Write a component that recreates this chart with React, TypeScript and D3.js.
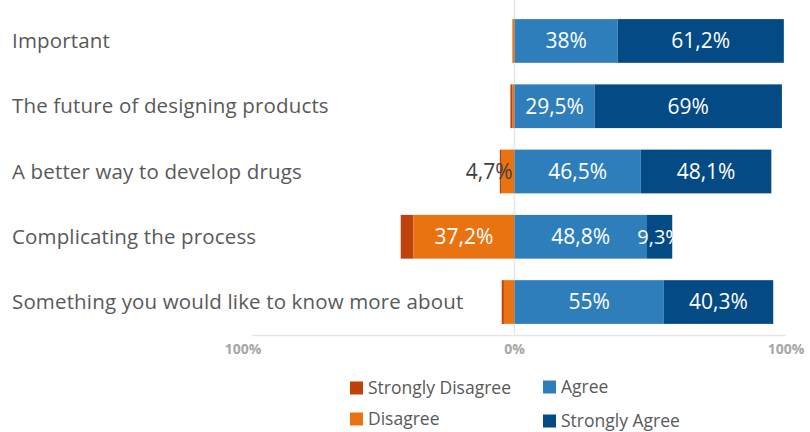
import React from "react";
import * as d3 from "d3";

const categories = [
  "Important",
  "The future of designing products",
  "A better way to develop drugs",
  "Complicating the process",
  "Something you would like to know more about",
];
const stronglyDisagree = [0, 0.8, 0.7, 4.7, 0.8];
const disagree = [0.8, 0.7, 4.7, 37.2, 3.9];
const agree = [38, 29.5, 46.5, 48.8, 55];
const stronglyAgree = [61.2, 69, 48.1, 9.3, 40.3];
const agreeLabels = ["38%", "29,5%", "46,5%", "48,8%", "55%"];
const stronglyAgreeLabels = ["61,2%", "69%", "48,1%", "9,3%", "40,3%"];
const disagreeLabels = ["", "", "4,7%", "37,2%", ""];
const tickValues = [-100, 0, 100];
const tickLabels = ["100%", "0%", "100%"];
const seriesNames = ["Strongly Disagree", "Disagree", "Agree", "Strongly Agree"];
const colors = ["#C0410B", "#EA7311", "#2E7EBC", "#044A85"];

export default function App() {
  const W = 810, H = 432;
  const x = d3.scaleLinear().domain([-100, 100]).range([243, 786]);
  const y = d3.scaleBand<number>().domain(d3.range(categories.length)).range([8, 335]).paddingInner(0.33).paddingOuter(0.17);
  const font = "'Open Sans', 'Noto Sans', sans-serif";
  const textColor = "#595959";
  const bw = y.bandwidth();

  return (
    <svg width={W} height={H} style={{ position: "absolute", left: 0, top: 0, background: "#fff" }} fontFamily={font}>
      <line x1={x(0)} x2={x(0)} y1={0} y2={336} stroke="#E6E6E6" strokeWidth={1.5} />
      <line x1={252} x2={786} y1={335.5} y2={335.5} stroke="#E6E6E6" strokeWidth={1.5} />
      {categories.map((c, i) => {
        const yy = y(i)!;
        const sd0 = -(stronglyDisagree[i] + disagree[i]);
        const d0 = -disagree[i];
        const a1 = agree[i];
        const sa1 = agree[i] + stronglyAgree[i];
        const cy = yy + bw / 2;
        const saW = x(sa1) - x(a1);
        return (
          <g key={c}>
            <text x={12} y={cy} dy="0.35em" fontSize={20.5} letterSpacing={0.15} fill={textColor}>{c}</text>
            {stronglyDisagree[i] > 0 && (
              <rect x={x(sd0)} y={yy} width={x(d0) - x(sd0)} height={bw} fill={colors[0]} />
            )}
            <rect x={x(d0)} y={yy} width={x(0) - x(d0)} height={bw} fill={colors[1]} />
            <rect x={x(0)} y={yy} width={x(a1) - x(0)} height={bw} fill={colors[2]} />
            <rect x={x(a1)} y={yy} width={saW} height={bw} fill={colors[3]} />
            <text x={(x(0) + x(a1)) / 2} y={cy} dy="0.35em" textAnchor="middle" fontSize={21} fill="#fff">{agreeLabels[i]}</text>
            <text x={(x(a1) + x(sa1)) / 2} y={cy} dy="0.35em" textAnchor="middle" fontSize={saW < 40 ? 20 : 21} fill="#fff">{stronglyAgreeLabels[i]}</text>
            {disagreeLabels[i] && (disagree[i] > 10 ? (
              <text x={(x(d0) + x(0)) / 2} y={cy} dy="0.35em" textAnchor="middle" fontSize={21} fill="#fff">{disagreeLabels[i]}</text>
            ) : (
              <text x={x(0) - 2} y={cy} dy="0.35em" textAnchor="end" fontSize={21} fill="#404040">{disagreeLabels[i]}</text>
            ))}
          </g>
        );
      })}
      {tickValues.map((t, i) => (
        <text key={i} x={x(t)} y={349} dy="0.35em" textAnchor="middle" fontSize={14} fontWeight="bold" fill="#A6A6A6">{tickLabels[i]}</text>
      ))}
      {seriesNames.map((s, i) => {
        const lx = [350, 350, 543, 543][i];
        const ly = [388, 419, 387, 421][i];
        return (
          <g key={s}>
            <rect x={lx} y={ly - 6.5} width={13} height={13} fill={colors[i]} />
            <text x={lx + 18} y={ly} dy="0.35em" fontSize={17.5} fill={textColor}>{s}</text>
          </g>
        );
      })}
    </svg>
  );
}
